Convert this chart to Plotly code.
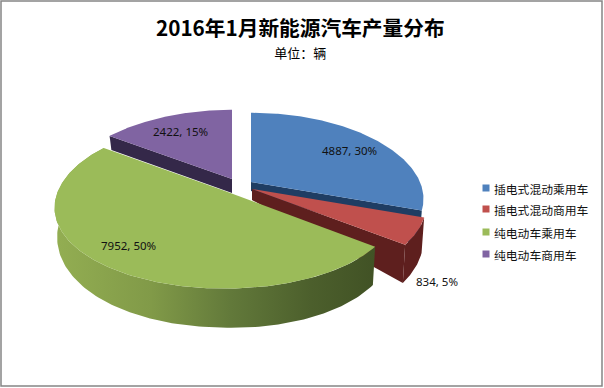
import numpy as np
import plotly.graph_objects as go

categories = ["插电式混动乘用车", "插电式混动商用车", "纯电动车乘用车", "纯电动车商用车"]
values = [4887, 834, 7952, 2422]
percents = [30, 5, 50, 15]
top_colors = ["#4f81bd", "#c0504d", "#9bbb59", "#8064a2"]
side_colors = ["#1f3d63", "#5e1f1e", "#6c8240", "#342849"]

# view model of the tilted, exploded pie
RX, RY, KX, KY = 167.0, 81.0, 0.2, 0.17
apex = {0: (251, 182), 1: (252, 189), 2: (225, 191), 3: (232, 179)}
x_scale = {0: 1.012, 1: 1.02, 2: 1.0, 3: 1.01}
center_thick = {0: 9, 1: 11, 2: 12, 3: 14}
draw_order = [3, 0, 1, 2]

total = sum(values)
edges = np.cumsum([0] + values) / total * 2 * np.pi


def project(X, Y, c, s):
    return c[0] + s * RX * X / (1 + KX * Y), c[1] - RY * Y / (1 + KY * Y)


def edge_thick(X, Y):
    return 27 + 12 * np.maximum(-Y, 0) + 5 * np.maximum(X, 0) - 22 * np.maximum(Y, 0)


def arc(i, n=160):
    t = np.linspace(edges[i], edges[i + 1], n)
    return np.sin(t), np.cos(t)


fig = go.Figure()


def poly(x, y, color=None, **kw):
    args = dict(x=x, y=y, mode="lines", fill="toself", line=dict(width=0),
                hoverinfo="skip", showlegend=False)
    if color:
        args["fillcolor"] = color
    args.update(kw)
    fig.add_trace(go.Scatter(**args))


for i in draw_order:
    c = apex[i]
    X, Y = arc(i)
    px, py = project(X, Y, c, x_scale[i])
    T = edge_thick(X, Y)
    bx = c[0] + (px - c[0]) * 0.985
    by = py + T

    # cut faces that look toward the viewer
    if i == 0 or i == 1:
        poly([c[0], px[-1], bx[-1], c[0]],
             [c[1], py[-1], by[-1], c[1] + center_thick[i]], side_colors[i])
    if i == 3:
        poly([c[0], px[0], bx[0], c[0]],
             [c[1], py[0], by[0], c[1] + center_thick[i]], side_colors[i])

    # outer rim
    sx = np.r_[px, bx[::-1]]
    sy = np.r_[py, by[::-1]]
    if i == 2:
        poly(sx, sy, fillgradient=dict(
            type="horizontal",
            colorscale=[[0, "#93ae52"], [0.3, "#819a48"], [0.55, "#62793a"],
                        [0.8, "#4c5f2c"], [1, "#415225"]]))
    elif i == 1:
        poly(sx, sy, side_colors[i])

    # top face
    poly(np.r_[c[0], px, c[0]], np.r_[c[1], py, c[1]], top_colors[i])

# legend
legend_y = [188, 209, 232, 254]
fig.add_trace(go.Scatter(
    x=[486] * 4, y=legend_y, mode="markers",
    marker=dict(symbol="square", size=7, color=top_colors, line=dict(width=0)),
    hoverinfo="skip", showlegend=False))

CJK = "Noto Sans CJK SC"
anns = []
for name, y in zip(categories, legend_y):
    anns.append(dict(x=492, y=y, text=name, xanchor="left", yanchor="middle", showarrow=False,
                     font=dict(family=CJK, size=11.8, color="#111111")))
label_pos = [(349, 150), (437, 281), (128, 245), (180.5, 131)]
for v, p, (lx, ly) in zip(values, percents, label_pos):
    anns.append(dict(x=lx, y=ly, text=f"{v}, {p}%", xanchor="center", yanchor="middle", showarrow=False,
                     font=dict(family="Noto Sans", size=11.5, color="#111111")))
anns.append(dict(
    x=300, y=37, xanchor="center", yanchor="middle", showarrow=False,
    text="<span style='font-size:20.7px'><b>2016年1月新能源汽车产量分布</b></span><br>"
         "<span style='font-size:13px'>单位：辆</span>",
    font=dict(family=CJK, size=17, color="#000000")))

fig.update_layout(
    width=604, height=388, margin=dict(l=0, r=0, t=0, b=0),
    paper_bgcolor="white", plot_bgcolor="white", showlegend=False,
    xaxis=dict(range=[0, 604], visible=False, fixedrange=True),
    yaxis=dict(range=[388, 0], visible=False, fixedrange=True),
    annotations=anns,
    shapes=[dict(type="rect", x0=1, y0=1, x1=602, y1=386, line=dict(color="#858585", width=1.5))],
)
fig.write_html("out.html", config=dict(displayModeBar=False),
               post_script="document.body.style.margin='0';document.body.style.overflow='hidden';")
